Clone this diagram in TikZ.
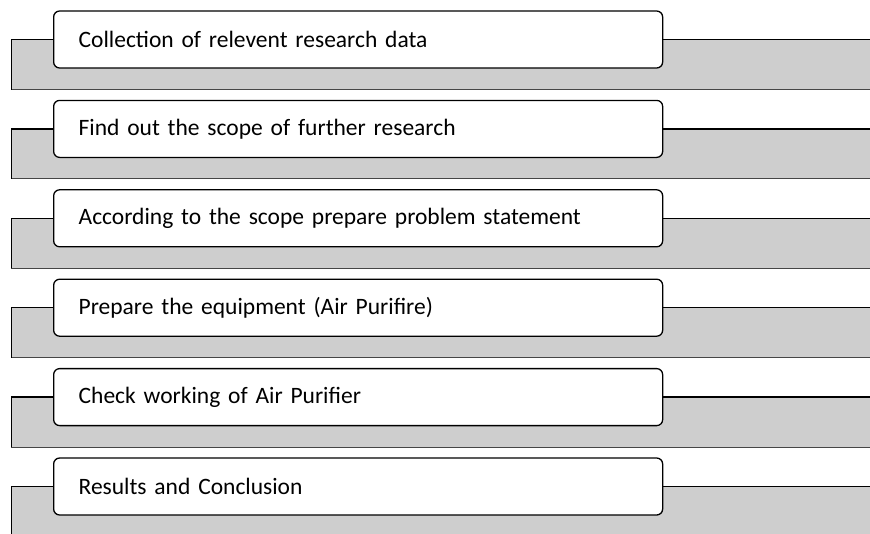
\documentclass[tikz,border=0pt]{standalone}
\usepackage{fontspec}
\setmainfont{Carlito}[WordSpace=0.75]
\usetikzlibrary{positioning}
\definecolor{bandgray}{RGB}{206,206,206}
\definecolor{bandedge}{RGB}{70,70,70}
\tikzset{
  stagebox/.style={draw, line width=1.3pt, fill=white, rounded corners=6pt,
    minimum height=57pt, text width=559pt, inner xsep=25pt, align=left,
    font=\fontsize{23.5}{27}\selectfont},
}

\begin{document}
\begin{tikzpicture}[x=1pt, y=-1pt]
    \useasboundingbox (0,0) rectangle (870,533);
    % stages with their bands
    \foreach \txt [count=\k from 0] in {Collection of relevent research data,
        Find out the scope of further research,
        According to the scope prepare problem statement,
        Prepare the equipment (Air Purifire),
        Check working of Air Purifier,
        Results and Conclusion} {
      \pgfmathsetmacro{\yc}{39.5+89.4*\k}
      \fill[bandgray] (11,\yc) rectangle (870,\yc+50);
      \draw[bandedge, line width=1pt] (11,\yc+50) -- (870,\yc+50);
      \draw[line width=0.8pt] (11,\yc+50) -- (11,\yc);
      \draw[line width=1.3pt] (11,\yc) -- (870,\yc);
      \node[stagebox, anchor=west] (stage\k) at (53,\yc) {\txt};
    }
  \end{tikzpicture}
\end{document}
